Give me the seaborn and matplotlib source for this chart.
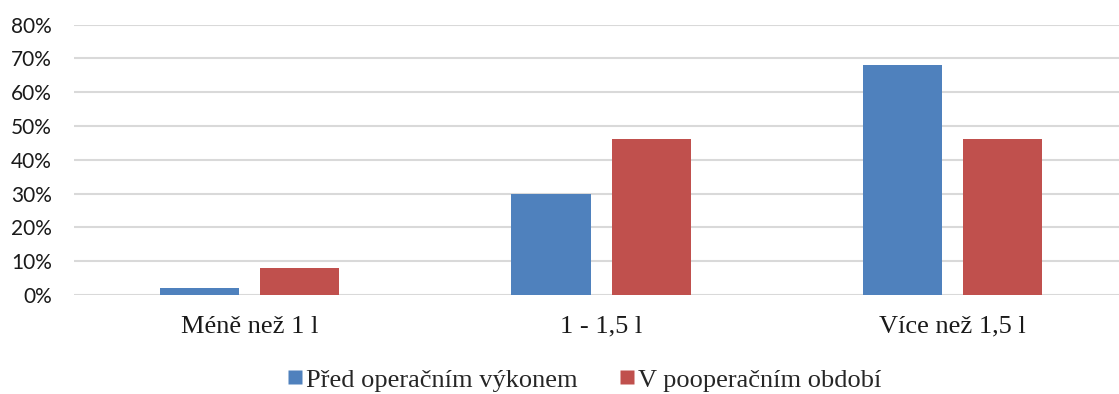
import matplotlib
matplotlib.use("Agg")
import matplotlib.pyplot as plt
from matplotlib.lines import Line2D
from matplotlib.ticker import PercentFormatter
import pandas as pd
import seaborn as sns

# Daily fluid intake categories and share of respondents (%)
categories = ["Méně než 1 l", "1 - 1,5 l", "Více než 1,5 l"]
series_names = ["Před operačním výkonem", "V pooperačním období"]
before_values = [2, 30, 68]
after_values = [8, 46, 46]
y_ticks = [0, 10, 20, 30, 40, 50, 60, 70, 80]

colors = ["#4F81BD", "#C0504D"]

df = pd.DataFrame({
    "kategorie": categories * 2,
    "obdobi": [series_names[0]] * len(categories) + [series_names[1]] * len(categories),
    "podil": before_values + after_values,
})

sns.set_theme(style="white")
plt.rcParams["font.family"] = ["Lato", "DejaVu Sans"]

fig = plt.figure(figsize=(11.19, 3.94), dpi=100)
ax = fig.add_axes([0.0661, 0.2513, 1.0 - 0.0661, 0.9378 - 0.2513])

sns.barplot(data=df, x="kategorie", y="podil", hue="obdobi",
            palette=colors, width=0.57, dodge=True, errorbar=None,
            saturation=1, legend=False, ax=ax, zorder=3)

# narrow each bar around its centre to leave a small gap inside groups
bar_w = 0.225
for p in ax.patches:
    cx = p.get_x() + p.get_width() / 2
    p.set_width(bar_w)
    p.set_x(cx - bar_w / 2)
    p.set_edgecolor("none")

ax.set_xlim(-0.5, 2.474)
ax.set_ylim(0, 80)
ax.set_yticks(y_ticks)
ax.yaxis.set_major_formatter(PercentFormatter(decimals=0))
ax.grid(axis="y", color="#D9D9D9", linewidth=1.5, zorder=0)
ax.grid(axis="x", visible=False)
for s in ax.spines.values():
    s.set_visible(False)
ax.tick_params(axis="both", length=0)
ax.tick_params(axis="y", labelsize=15, pad=16, labelcolor="#1a1a1a")
ax.set_xticks(range(len(categories)))
ax.set_xticklabels(categories, fontfamily="Liberation Serif", fontsize=19, color="#1a1a1a")
ax.tick_params(axis="x", pad=15)
ax.set_xlabel("")
ax.set_ylabel("")

handles = [Line2D([0], [0], marker="s", linestyle="none", markersize=10,
                  markerfacecolor=c, markeredgecolor="none") for c in colors]
fig.legend(handles, series_names, loc="center", bbox_to_anchor=(0.522, 0.036),
           ncol=2, frameon=False, handlelength=0.6, handletextpad=0.1,
           columnspacing=1.6, borderaxespad=0, borderpad=0,
           prop={"family": "Liberation Serif", "size": 19})

fig.savefig("out.png", dpi=100, facecolor="white")
